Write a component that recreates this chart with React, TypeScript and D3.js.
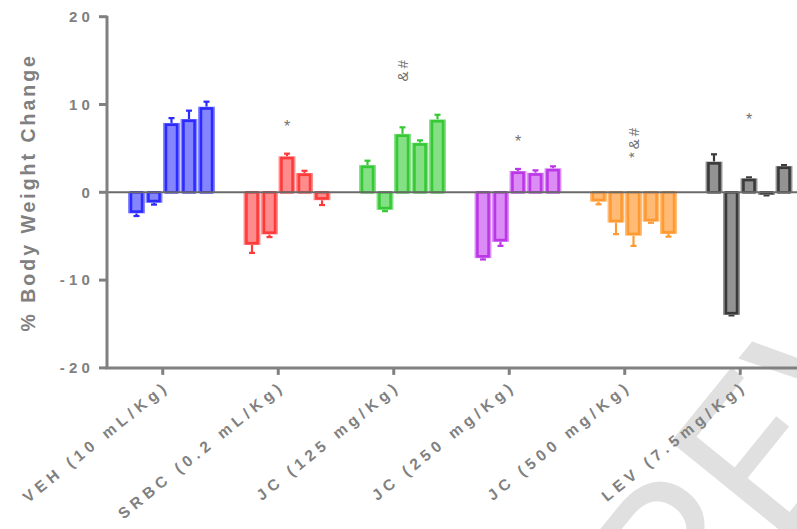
import React from "react";
import * as d3 from "d3";

const categories = [
  "VEH (10 mL/Kg)",
  "SRBC (0.2 mL/Kg)",
  "JC (125 mg/Kg)",
  "JC (250 mg/Kg)",
  "JC (500 mg/Kg)",
  "LEV (7.5mg/Kg)",
];
const vehValues = [-2.4, -1.2, 7.9, 8.35, 9.75];
const vehErrors = [0.3, 0.2, 0.55, 0.95, 0.57];
const srbcValues = [-6.0, -4.8, 4.1, 2.2, -0.9];
const srbcErrors = [0.9, 0.3, 0.3, 0.25, 0.55];
const jc125Values = [3.1, -2.0, 6.65, 5.65, 8.3];
const jc125Errors = [0.5, 0.15, 0.75, 0.27, 0.53];
const jc250Values = [-7.5, -5.65, 2.43, 2.23, 2.73];
const jc250Errors = [0.15, 0.45, 0.23, 0.27, 0.23];
const jc500Values = [-1.07, -3.46, -4.94, -3.35, -4.75];
const jc500Errors = [0.3, 1.3, 1.17, 0.12, 0.3];
const levValues = [3.5, -13.97, 1.6, -0.3, 3.0];
const levErrors = [0.83, 0.05, 0.1, 0.05, 0.1];
const annotations = ["", "*", "&#", "*", "*&#", "*"];
const annotationY = [0, 8.2, 14.0, 6.5, 5.8, 9.0];
const yTicks = [-20, -10, 0, 10, 20];

const groupValues = [vehValues, srbcValues, jc125Values, jc250Values, jc500Values, levValues];
const groupErrors = [vehErrors, srbcErrors, jc125Errors, jc250Errors, jc500Errors, levErrors];
const lightColors = ["#8585ff", "#ff8c8c", "#85e085", "#dc8cf5", "#ffbb75", "#939393"];
const darkColors = ["#2b2bff", "#ff3a3a", "#36c936", "#bb36e6", "#ff9a33", "#3a3a3a"];

const W = 797;
const H = 529;
const axisColor = "#808080";
const font = "'Liberation Sans', Arial, sans-serif";

export default function App() {
  const y = d3.scaleLinear().domain([-20, 20]).range([367.9, 16.7]);
  const x = d3.scaleBand<string>().domain(categories).range([105, 798]).padding(0);
  const sub = d3.scaleBand<number>().domain([0, 1, 2, 3, 4]).range([-35, 52.5]).padding(0);
  const bw = sub.bandwidth();
  const xLeft = 107;
  const xRight = 797;

  return (
    <svg
      width={W}
      height={H}
      style={{ position: "absolute", left: 0, top: 0, background: "#fff" }}
    >
      {/* watermark */}
      <text
        x={0}
        y={0}
        transform="translate(695,655) rotate(-51)"
        fontFamily="Roboto, 'Liberation Sans', sans-serif"
        fontWeight={400}
        fontSize={215}
        fill="#e0e0e0"
      >
        REVIEW
      </text>

      {/* bars */}
      {categories.map((c, gi) => {
        const center = (x(c) as number) + x.bandwidth() / 2;
        return groupValues[gi].map((v, i) => {
          const bx = center + (sub(i) as number);
          const y0 = y(Math.max(v, 0));
          const y1 = y(Math.min(v, 0));
          const h = Math.max(y1 - y0, 0.5);
          const err = groupErrors[gi][i];
          const yEnd = v >= 0 ? y(v + err) : y(v - err);
          const yVal = y(v);
          const cx = bx + bw / 2;
          const inset = 3.2;
          return (
            <g key={`${gi}-${i}`}>
              <line x1={cx} x2={cx} y1={yVal} y2={yEnd} stroke={darkColors[gi]} strokeWidth={2.2} />
              <line x1={cx - 3} x2={cx + 3} y1={yEnd} y2={yEnd} stroke={darkColors[gi]} strokeWidth={2.2} />
              <rect x={bx + 0.3} y={y0} width={bw - 0.6} height={h} fill={lightColors[gi]} />
              <rect
                x={bx + inset}
                y={v >= 0 ? y0 + 1.8 : y0}
                width={Math.max(bw - 2 * inset, 0)}
                height={Math.max(h - 1.8, 0.3)}
                fill="none"
                stroke={darkColors[gi]}
                strokeWidth={2.6}
              />
            </g>
          );
        });
      })}

      {/* zero line */}
      <line x1={xLeft} x2={xRight} y1={y(0)} y2={y(0)} stroke="#6a6a6a" strokeWidth={2} />

      {/* y axis */}
      <line x1={xLeft} x2={xLeft} y1={y(20) - 1} y2={y(-20) + 1} stroke={axisColor} strokeWidth={3} />
      {yTicks.map((t) => (
        <g key={t}>
          <line x1={xLeft - 8} x2={xLeft} y1={y(t)} y2={y(t)} stroke={axisColor} strokeWidth={3} />
          <text
            x={xLeft - 13}
            y={y(t)}
            dy="0.35em"
            textAnchor="end"
            fontFamily={font}
            fontWeight="bold"
            fontSize={15}
            letterSpacing={4.2}
            fill={axisColor}
          >
            {t}
          </text>
        </g>
      ))}
      <text
        transform={`translate(35,${(y(20) + y(-20)) / 2}) rotate(-90)`}
        textAnchor="middle"
        fontFamily={font}
        fontWeight="bold"
        fontSize={19.5}
        letterSpacing={3}
        fill={axisColor}
      >
        % Body Weight Change
      </text>

      {/* x axis */}
      <line x1={xLeft - 1.5} x2={xRight} y1={y(-20)} y2={y(-20)} stroke={axisColor} strokeWidth={3} />
      {categories.map((c) => {
        const tx = (x(c) as number) + x.bandwidth() / 2;
        return (
          <g key={c}>
            <line x1={tx} x2={tx} y1={y(-20)} y2={y(-20) + 7} stroke={axisColor} strokeWidth={3} />
            <text
              transform={`translate(${tx + 8},${y(-20) + 20}) rotate(-39)`}
              textAnchor="end"
              fontFamily={font}
              fontWeight="bold"
              fontSize={15.5}
              letterSpacing={4.8}
              fill={axisColor}
            >
              {c}
            </text>
          </g>
        );
      })}

      {/* annotations */}
      {categories.map((c, gi) => {
        const a = annotations[gi];
        if (!a) return null;
        const cx = (x(c) as number) + x.bandwidth() / 2 + 8.75;
        const ay = y(annotationY[gi]);
        if (a.length === 1) {
          return (
            <text key={c} x={cx} y={ay} dy="0.75em" textAnchor="middle" fontFamily={font} fontSize={16} fill="#707070">
              {a}
            </text>
          );
        }
        return (
          <text
            key={c}
            transform={`translate(${cx + 5},${ay}) rotate(-90)`}
            textAnchor="middle"
            fontFamily={font}
            fontSize={15}
            letterSpacing={3}
            fill="#707070"
          >
            {a}
          </text>
        );
      })}
    </svg>
  );
}
